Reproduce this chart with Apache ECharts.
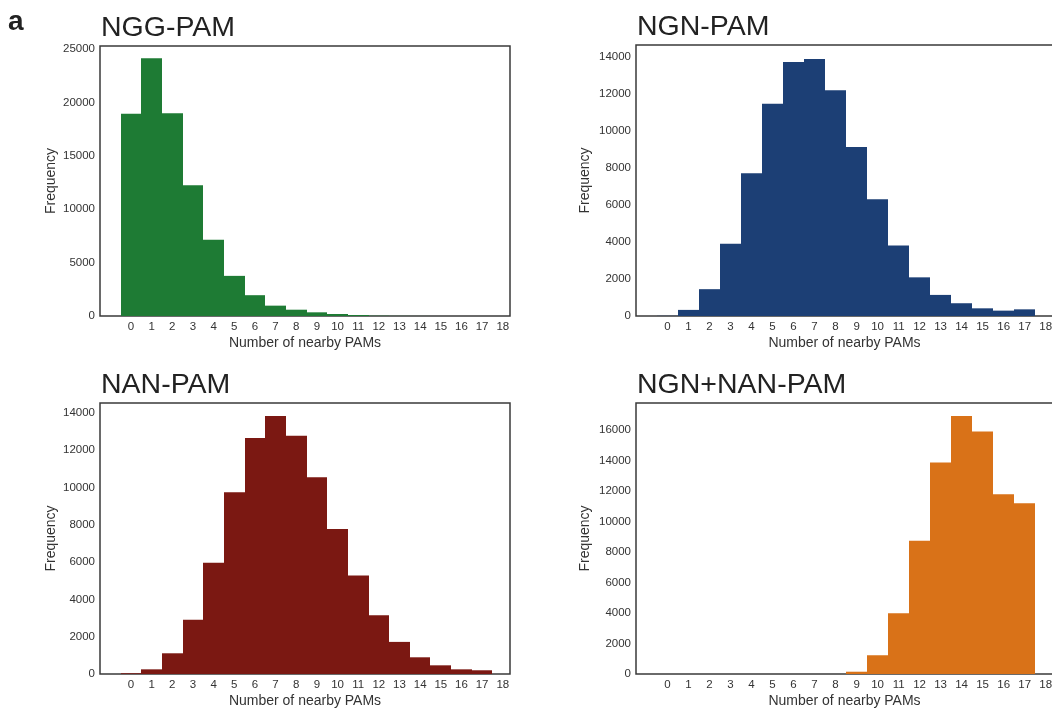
<!DOCTYPE html>
<html>
<head>
<meta charset="utf-8">
<script src="https://cdn.jsdelivr.net/npm/echarts@6/dist/echarts.min.js"></script>
<style>
  html, body { margin: 0; padding: 0; background: #fff; }
  #chart-container { width: 1052px; height: 713px; }
</style>
</head>
<body>
<div id="chart-container"></div>
<script>
// histogram data
const pamCounts = [0, 1, 2, 3, 4, 5, 6, 7, 8, 9, 10, 11, 12, 13, 14, 15, 16, 17, 18]
const nggFreq = [18950, 24150, 19000, 12250, 7150, 3760, 1950, 970, 590, 345, 190, 95, 25, 10, 4, 1, 0, 0, 0]
const ngnFreq = [10, 330, 1450, 3900, 7720, 11470, 13730, 13890, 12210, 9130, 6310, 3810, 2090, 1140, 690, 415, 290, 360, 0]
const nanFreq = [40, 250, 1110, 2900, 5960, 9740, 12640, 13820, 12770, 10540, 7770, 5280, 3150, 1720, 895, 465, 250, 200, 0]
const comboFreq = [0, 0, 0, 0, 0, 0, 0, 0, 0, 150, 1230, 3990, 8750, 13870, 16920, 15910, 11790, 11200, 0]

const panelTitles = ['NGG-PAM', 'NGN-PAM', 'NAN-PAM', 'NGN+NAN-PAM']
const panelColors = ['#1e7b34', '#1c3f75', '#7b1812', '#d97218']
const panelData = [nggFreq, ngnFreq, nanFreq, comboFreq]
const yMax = [25300, 14650, 14520, 17780]
const yStep = [5000, 2000, 2000, 2000]

const fontName = 'Liberation Sans, Arial, sans-serif'

// grid boxes (left, top, width, height)
const boxes = [
    { left: 100, top: 46, width: 410, height: 270 },
    { left: 636, top: 45, width: 417, height: 271 },
    { left: 100, top: 403, width: 410, height: 271 },
    { left: 636, top: 403, width: 417, height: 271 }
]

function pairs(values) {
    let out = []
    for (let i = 0; i < pamCounts.length; i++) {
        out.push([pamCounts[i], values[i]])
    }
    return out
}

// one rect per bin, edges snapped to whole pixels so neighbours don't leave seams
function histBars(color) {
    return function (params, api) {
        let x = api.value(0)
        let y = api.value(1)
        if (!y) return null
        let p0 = api.coord([x - 0.5, 0])
        let p1 = api.coord([x + 0.5, y])
        let xl = Math.round(p0[0]), xr = Math.round(p1[0])
        return {
            type: 'rect',
            shape: { x: xl, y: p1[1], width: xr - xl, height: p0[1] - p1[1] },
            style: { fill: color }
        }
    }
}

let grids = [], xAxes = [], yAxes = [], series = [], titles = []
for (let i = 0; i < 4; i++) {
    let b = boxes[i]
    grids.push({
        left: b.left, top: b.top, width: b.width, height: b.height,
        outerBoundsMode: 'none', containLabel: false,
        show: true, borderColor: '#3a3a3a', borderWidth: 1.5, backgroundColor: '#fff'
    })
    xAxes.push({
        type: 'value', gridIndex: i, min: -1.5, max: 18.35, interval: 0.5,
        axisLine: { show: false }, axisTick: { show: false }, splitLine: { show: false },
        axisLabel: {
            margin: 5, color: '#333', fontSize: 11.5, fontFamily: fontName,
            formatter: v => (Number.isInteger(v) && v >= 0 && v <= 18) ? String(v) : ''
        },
        name: 'Number of nearby PAMs', nameLocation: 'middle', nameGap: 20,
        nameTextStyle: { color: '#333', fontSize: 14, fontFamily: fontName }
    })
    yAxes.push({
        type: 'value', gridIndex: i, min: 0, max: yMax[i], interval: yStep[i],
        axisLine: { show: false }, axisTick: { show: false }, splitLine: { show: false },
        axisLabel: {
            margin: 5, color: '#333', fontSize: 11.5, fontFamily: fontName,
            formatter: v => (v % yStep[i] === 0) ? String(v) : ''
        },
        name: 'Frequency', nameLocation: 'middle', nameGap: i % 2 ? 44 : 42,
        nameTextStyle: { color: '#333', fontSize: 14, fontFamily: fontName }
    })
    series.push({
        type: 'custom', xAxisIndex: i, yAxisIndex: i,
        renderItem: histBars(panelColors[i]),
        data: pairs(panelData[i])
    })
    titles.push({
        text: panelTitles[i], left: b.left + 1, top: b.top - 32, padding: 0,
        textStyle: { color: '#222', fontSize: 28.5, fontWeight: 'normal', fontFamily: fontName }
    })
}

titles.push({
    text: 'a', left: 8, top: 8, padding: 0,
    textStyle: { color: '#222', fontSize: 28, fontWeight: 'bold', fontFamily: fontName }
})

var dom = document.getElementById('chart-container')
var pamChart = echarts.init(dom, null, { renderer: 'canvas' })
pamChart.setOption({
    animation: false,
    backgroundColor: '#fff',
    title: titles,
    grid: grids,
    xAxis: xAxes,
    yAxis: yAxes,
    series: series
})
</script>
</body>
</html>
